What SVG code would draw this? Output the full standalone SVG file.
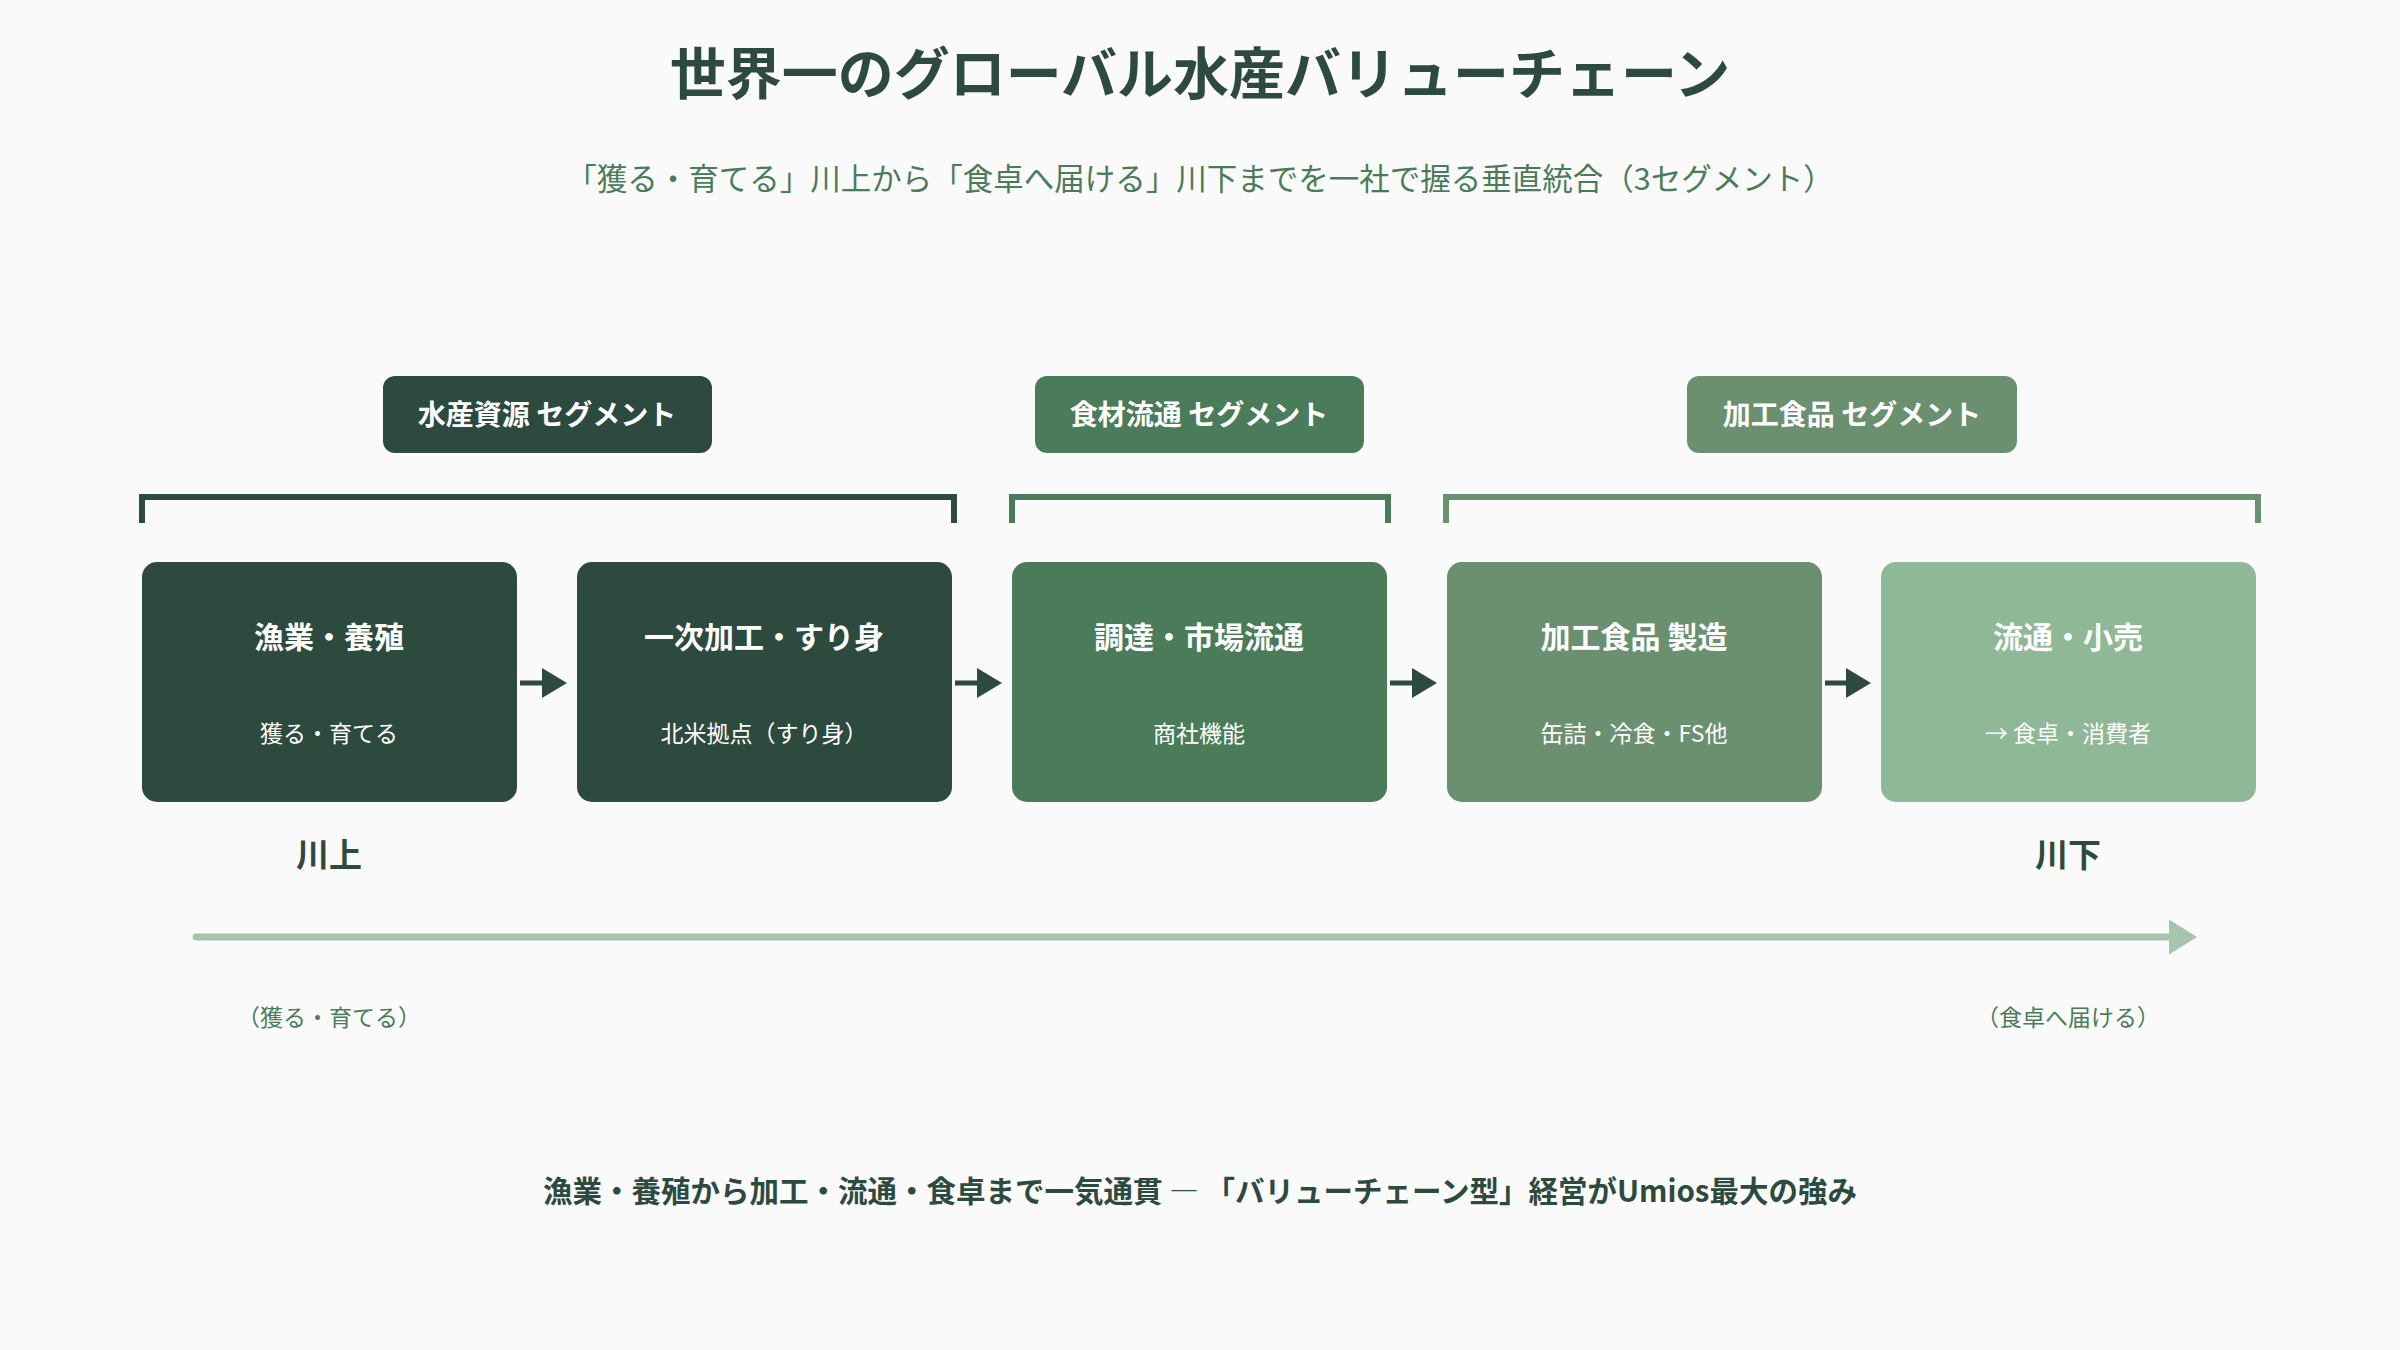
<svg xmlns="http://www.w3.org/2000/svg" width="2400" height="1350" viewBox="0 0 2400 1350">
<style>
text{font-family:"Noto Sans CJK JP","Noto Sans",sans-serif;text-anchor:middle;dominant-baseline:central}
.seg{font-size:28px;font-weight:bold;fill:#fff}
.nt{font-size:30px;font-weight:bold;fill:#fff}
.ns{font-size:23px;fill:#fff}
.br{fill:none;stroke-width:6}
.ar{stroke:#2d4a3e;stroke-width:5;marker-end:url(#ah)}
</style>
<defs>
<marker id="ah" markerWidth="6" markerHeight="6" refX="4" refY="3" orient="auto" markerUnits="strokeWidth"><path d="M0,0 L5,3 L0,6z" fill="#2d4a3e"/></marker>
<marker id="ah2" markerWidth="5" markerHeight="5" refX="3" refY="2.5" orient="auto" markerUnits="strokeWidth"><path d="M0,0 L4,2.5 L0,5z" fill="#a8c4ad"/></marker>
</defs>
<rect width="2400" height="1350" fill="#fafafa"/>
<text x="1200" y="69" font-size="56" font-weight="bold" fill="#2d4a3e">世界一のグローバル水産バリューチェーン</text>
<text x="1200" y="177" font-size="30.5" fill="#4a7c59">「獲る・育てる」川上から「食卓へ届ける」川下までを一社で握る垂直統合（3セグメント）</text>
<g id="seg1"><rect x="383" y="376" width="329" height="77" rx="12" fill="#2d4a3e"/><text class="seg" x="547" y="413">水産資源 セグメント</text></g>
<g id="seg2"><rect x="1035" y="376" width="329" height="77" rx="12" fill="#4a7c59"/><text class="seg" x="1199" y="413">食材流通 セグメント</text></g>
<g id="seg3"><rect x="1687" y="376" width="330" height="77" rx="12" fill="#6b9070"/><text class="seg" x="1852" y="413">加工食品 セグメント</text></g>
<g id="brackets">
<path class="br" stroke="#2d4a3e" d="M142,523 V497 H954 V523"/>
<path class="br" stroke="#4a7c59" d="M1012,523 V497 H1388 V523"/>
<path class="br" stroke="#6b9070" d="M1446,523 V497 H2258 V523"/>
</g>
<g id="n1"><rect x="142" y="562" width="375" height="240" rx="15" fill="#2d4a3e"/><text class="nt" x="329" y="635">漁業・養殖</text><text class="ns" x="329" y="732">獲る・育てる</text></g>
<g id="n2"><rect x="577" y="562" width="375" height="240" rx="15" fill="#2d4a3e"/><text class="nt" x="764" y="635">一次加工・すり身</text><text class="ns" x="764" y="732">北米拠点（すり身）</text></g>
<g id="n3"><rect x="1012" y="562" width="375" height="240" rx="15" fill="#4a7c59"/><text class="nt" x="1199" y="635">調達・市場流通</text><text class="ns" x="1199" y="732">商社機能</text></g>
<g id="n4"><rect x="1447" y="562" width="375" height="240" rx="15" fill="#6b9070"/><text class="nt" x="1634" y="635">加工食品 製造</text><text class="ns" x="1634" y="732">缶詰・冷食・FS他</text></g>
<g id="n5"><rect x="1881" y="562" width="375" height="240" rx="15" fill="#8fb996"/><text class="nt" x="2068" y="635" fill="#2d4a3e">流通・小売</text><text class="ns" x="2068" y="732" fill="#2d4a3e">→ 食卓・消費者</text></g>
<g id="connectors">
<line class="ar" x1="520" y1="683" x2="562" y2="683"/>
<line class="ar" x1="955" y1="683" x2="997" y2="683"/>
<line class="ar" x1="1390" y1="683" x2="1432" y2="683"/>
<line class="ar" x1="1825" y1="683" x2="1866" y2="683"/>
<line x1="196" y1="937" x2="2190" y2="937" stroke="#a8c4ad" stroke-width="7" stroke-linecap="round" marker-end="url(#ah2)"/>
</g>
<text x="329" y="853" font-size="33" font-weight="bold" fill="#2d4a3e">川上</text>
<text x="2068" y="853" font-size="33" font-weight="bold" fill="#2d4a3e">川下</text>
<text x="329" y="1016" font-size="23" fill="#4a7c59">（獲る・育てる）</text>
<text x="2068" y="1016" font-size="23" fill="#4a7c59">（食卓へ届ける）</text>
<text x="1200" y="1189" font-size="29.5" font-weight="bold" fill="#2d4a3e">漁業・養殖から加工・流通・食卓まで一気通貫 ― 「バリューチェーン型」経営がUmios最大の強み</text>
</svg>
